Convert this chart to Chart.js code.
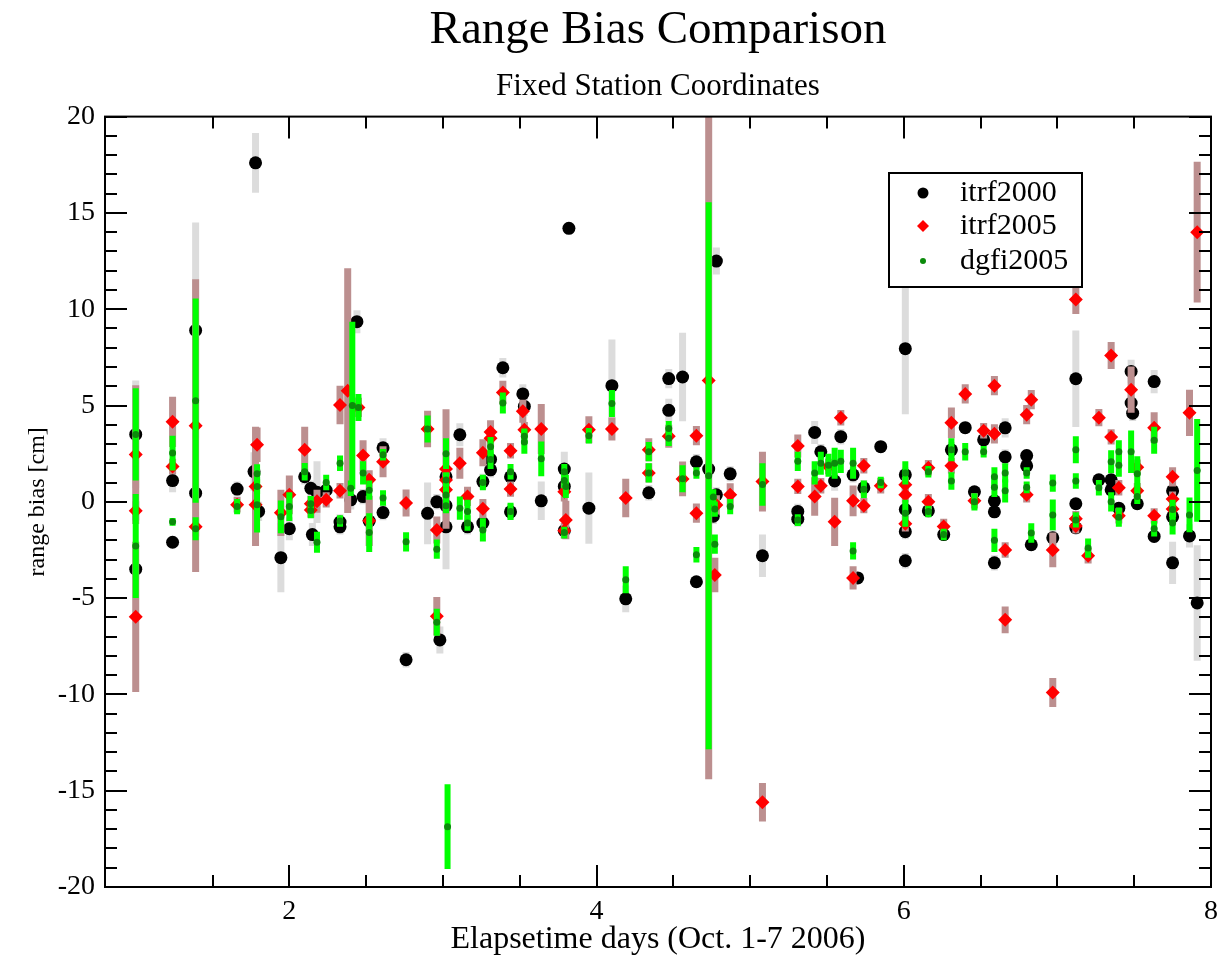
<!DOCTYPE html>
<html>
<head>
<meta charset="utf-8">
<title>Range Bias Comparison</title>
<script src="https://cdn.jsdelivr.net/npm/chart.js@4.4.1/dist/chart.umd.min.js"></script>
<style>
  html, body { margin: 0; padding: 0; background: #fff; }
  #wrap { width: 1218px; height: 959px; }
</style>
</head>
<body>
<div id="wrap"><canvas id="biasChart"></canvas></div>
<script>
// itrf2000 solution: elapsed day, range bias [cm], error [cm]
const itrf2000Days = [
  1.00,1.00,1.24,1.24,1.39,1.39,1.66,1.78,1.77,1.80,
  1.945,2.00,2.10,2.14,2.15,2.18,2.24,2.33,2.33,2.44,
  2.41,2.40,2.48,2.52,2.61,2.61,2.76,2.90,2.96,2.98,
  3.02,3.02,3.02,3.11,3.16,3.26,3.26,3.31,3.31,3.39,
  3.44,3.44,3.52,3.53,3.64,3.79,3.79,3.79,3.82,3.95,
  4.10,4.19,4.34,4.47,4.47,4.56,4.65,4.65,4.73,4.76,
  4.78,4.78,4.87,5.08,5.31,5.31,5.42,5.46,5.59,5.55,
  5.67,5.70,5.74,5.85,6.01,6.01,6.01,6.01,6.01,6.16,
  6.26,6.31,6.40,6.46,6.52,6.59,6.59,6.59,6.66,6.66,
  6.80,6.80,6.83,6.97,7.12,7.12,7.12,7.27,7.35,7.35,
  7.40,7.48,7.48,7.49,7.52,7.63,7.63,7.75,7.75,7.75,
  7.86,7.91
];
const itrf2000Bias = [
  3.5,-3.5,1.1,-2.1,8.9,0.45,0.66,17.6,1.57,-0.5,
  -2.9,-1.4,1.3,0.7,-1.7,0.5,0.6,-1.05,-1.3,9.35,
  4.95,0.1,0.27,-1.0,2.8,-0.56,-8.2,-0.6,0.0,-7.17,
  1.3,-0.2,-1.3,3.48,-1.3,1.05,-1.1,2.2,1.66,6.96,
  1.3,-0.52,5.6,4.95,0.05,1.7,0.8,-1.5,14.2,-0.33,
  6.03,-5.04,0.47,6.4,4.75,6.48,2.08,-4.15,1.7,-0.75,
  0.36,12.5,1.45,-2.8,-0.5,-0.9,3.6,2.6,3.38,1.08,
  1.4,-3.95,0.73,2.86,7.95,1.4,-0.4,-1.55,-3.06,-0.47,
  -1.7,2.7,3.85,0.52,3.22,0.05,-0.52,-3.17,3.84,2.33,
  2.4,1.87,-2.23,-1.87,6.39,-0.1,-1.35,1.14,1.14,0.62,
  -0.33,6.77,5.13,4.6,-0.1,6.24,-1.8,0.57,-0.78,-3.17,
  -1.77,-5.25
];
const itrf2000Err = [
  2.8,0.5,0.6,0.3,5.6,0.5,0.4,1.55,1.0,0.5,
  1.8,0.6,0.4,0.4,0.6,1.6,0.4,0.4,0.4,0.6,
  0.5,0.5,0.4,1.3,0.5,0.4,0.4,1.6,0.4,0.7,
  0.5,0.5,2.2,0.6,0.4,0.4,0.4,0.4,0.4,0.5,
  0.4,0.4,0.5,0.5,1.0,0.9,0.4,0.4,0.3,1.85,
  2.4,0.7,0.4,0.5,0.6,2.3,0.4,0.3,0.4,0.4,
  0.4,0.7,0.4,1.1,0.4,0.4,0.6,0.4,0.4,0.5,
  0.4,0.3,0.4,0.3,3.4,0.4,0.4,0.4,0.4,0.3,
  0.3,0.4,0.3,0.3,0.3,0.3,0.3,0.4,0.5,0.4,
  0.3,0.3,0.3,0.4,2.5,0.3,0.3,0.3,0.3,0.3,
  0.3,0.6,0.6,0.4,0.3,0.6,0.3,0.3,0.3,1.1,
  0.6,3.0
];

// itrf2005 solution
const itrf2005Days = [
  1.00,1.00,1.00,1.24,1.24,1.39,1.39,1.66,1.79,1.78,
  1.78,1.945,2.00,2.10,2.14,2.14,2.18,2.24,2.33,2.33,
  2.38,2.45,2.48,2.52,2.52,2.61,2.76,2.90,2.96,2.96,
  3.02,3.02,3.02,3.11,3.16,3.26,3.26,3.31,3.31,3.39,
  3.44,3.44,3.52,3.53,3.64,3.79,3.80,3.79,3.95,4.10,
  4.19,4.34,4.34,4.47,4.56,4.65,4.65,4.73,4.78,4.77,
  4.87,5.08,5.08,5.31,5.31,5.42,5.46,5.59,5.51,5.55,
  5.67,5.67,5.74,5.74,5.85,6.01,6.01,6.01,6.16,6.16,
  6.26,6.31,6.31,6.40,6.46,6.52,6.59,6.59,6.66,6.66,
  6.80,6.80,6.83,6.97,6.97,7.12,7.12,7.12,7.20,7.27,
  7.35,7.35,7.40,7.40,7.48,7.52,7.52,7.63,7.63,7.75,
  7.75,7.75,7.86,7.91
];
const itrf2005Bias = [
  2.45,-0.47,-5.97,4.15,1.83,3.95,-1.3,-0.15,2.96,0.8,
  -0.15,-0.57,0.36,2.7,-0.1,-0.43,0.03,0.1,5.03,0.57,
  5.77,4.9,2.4,1.14,-0.99,2.08,-0.06,3.78,-1.46,-5.94,
  1.7,1.13,0.62,2.0,0.28,2.55,-0.36,3.63,3.3,5.68,
  2.65,0.66,4.7,3.74,3.78,0.52,-0.94,-1.5,3.74,3.78,
  0.2,2.7,1.5,3.4,1.19,3.43,-0.59,6.3,-0.16,-3.8,
  0.36,1.05,-15.6,2.9,0.8,0.27,0.83,4.36,1.83,-1.04,
  0.05,-3.95,1.87,-0.2,0.83,0.88,0.36,-1.14,1.77,0.0,
  -1.28,4.1,1.87,5.6,0.05,3.69,6.03,3.53,-2.5,-6.13,
  4.52,0.36,5.3,-2.5,-9.9,10.5,-0.88,-1.25,-2.8,4.37,
  7.6,3.37,0.73,-0.73,5.82,1.8,0.57,3.85,-0.73,1.3,
  0.14,-0.38,4.62,14.0
];
const itrf2005Err = [
  3.6,0.5,3.9,1.3,0.4,7.6,0.5,0.4,0.9,3.1,
  0.5,1.2,1.0,1.2,0.4,0.4,0.6,0.4,1.0,0.4,
  6.35,0.5,0.8,0.5,1.3,0.8,0.7,0.95,0.7,1.0,
  3.1,0.4,0.4,0.8,0.5,0.7,0.5,0.6,0.4,0.6,
  0.4,0.4,0.6,0.4,1.3,0.5,1.0,0.4,0.7,0.6,
  1.0,0.6,0.5,0.6,0.9,0.5,0.5,20.7,0.5,0.9,
  0.6,1.55,1.0,0.6,0.4,1.0,0.4,0.4,0.4,1.25,
  0.8,0.6,0.4,0.4,0.4,0.4,0.4,0.4,0.4,0.4,
  0.4,0.8,0.4,0.5,0.4,0.4,0.5,0.5,0.4,0.7,
  0.5,0.4,0.5,0.9,0.75,0.75,0.4,0.4,0.4,0.45,
  0.7,0.4,0.4,0.4,1.2,0.4,0.4,0.8,0.4,0.5,
  0.4,0.4,1.2,3.65
];

// dgfi2005 solution
const dgfi2005Days = [
  1.00,1.00,1.24,1.24,1.39,1.39,1.66,1.79,1.79,1.79,
  1.945,2.00,2.10,2.14,2.14,2.18,2.24,2.33,2.33,2.41,
  2.45,2.40,2.48,2.52,2.52,2.61,2.61,2.76,2.90,2.96,
  2.96,3.03,3.02,3.02,3.02,3.02,3.11,3.16,3.16,3.26,
  3.26,3.31,3.31,3.39,3.44,3.44,3.53,3.53,3.64,3.79,
  3.79,3.80,3.79,3.95,4.10,4.19,4.34,4.34,4.47,4.47,
  4.56,4.65,4.65,4.73,4.76,4.77,4.77,4.87,5.08,5.31,
  5.31,5.42,5.46,5.51,5.55,5.59,5.67,5.67,5.74,5.85,
  6.01,6.01,6.16,6.16,6.26,6.31,6.31,6.40,6.46,6.52,
  6.59,6.59,6.59,6.66,6.66,6.80,6.80,6.83,6.97,6.97,
  7.12,7.12,7.12,7.20,7.27,7.35,7.35,7.40,7.40,7.40,
  7.48,7.52,7.52,7.63,7.63,7.75,7.75,7.86,7.91
];
const dgfi2005Bias = [
  3.5,-2.3,2.53,-1.04,5.25,-1.4,-0.25,1.45,0.8,-0.15,
  -0.78,-0.25,1.56,-0.1,-0.45,-2.1,1.0,2.0,-1.0,5.0,
  4.9,0.7,1.5,0.6,-1.6,2.44,0.2,-2.08,3.78,-2.46,
  -6.25,-16.87,2.5,1.13,0.35,-0.2,-0.33,-0.5,-1.1,1.0,
  -1.46,2.86,2.2,5.13,1.56,-0.5,3.4,3.1,2.23,1.56,
  1.1,0.8,-1.6,3.43,5.1,-4.05,2.6,1.5,3.8,3.3,
  1.2,1.5,-2.75,1.35,0.25,-0.38,-2.2,-0.25,0.9,2.1,
  -0.95,1.5,2.0,1.9,2.0,2.1,2.0,-2.55,0.65,1.0,
  1.5,-0.6,1.56,-0.5,-1.7,2.7,1.08,2.6,0.0,2.6,
  1.3,0.75,-2.0,1.5,0.57,1.5,0.75,-1.62,0.97,-0.68,
  2.7,1.08,-0.94,-2.4,0.73,2.08,0.0,2.6,1.9,-0.8,
  2.6,1.46,0.28,3.2,-1.4,-0.4,-1.1,-0.68,1.63
];
const dgfi2005Err = [
  2.4,2.7,0.9,0.2,5.3,0.6,0.4,0.5,0.4,1.45,
  0.85,0.75,0.45,0.4,0.4,0.55,0.4,0.4,0.3,4.35,
  0.7,0.4,0.6,0.5,1.0,0.3,0.4,0.5,0.7,0.5,
  0.7,2.2,0.8,0.4,0.4,0.4,0.6,0.6,0.4,0.4,
  0.6,0.5,0.5,0.55,0.4,0.45,0.4,0.6,0.9,0.4,
  0.4,0.6,0.3,0.4,0.7,0.7,0.5,0.5,0.4,0.4,
  0.7,0.3,0.4,14.2,0.4,0.4,0.5,0.4,1.1,0.5,
  0.3,0.6,0.6,0.6,0.8,0.6,0.8,0.45,0.45,0.3,
  0.6,0.7,0.3,0.3,0.3,0.6,0.45,0.45,0.45,0.3,
  0.5,0.5,0.6,0.5,0.6,0.3,0.3,0.5,0.45,0.8,
  0.7,0.4,0.4,0.5,0.4,0.6,0.5,0.6,0.6,0.5,
  1.1,0.9,0.4,0.7,0.4,0.5,0.6,0.9,2.67
];

const serif = "'Liberation Serif', 'Times New Roman', serif";

function toPoints(days, bias) {
    return days.map((d, i) => ({ x: d, y: bias[i] }));
}

// Vertical error bars, drawn just before each dataset's own symbols
const errorBars = {
    id: 'errorBars',
    beforeDatasetDraw(chart, args) {
        const ds = chart.data.datasets[args.index];
        const yScale = chart.scales.y;
        const area = chart.chartArea;
        const ctx = chart.ctx;
        ctx.save();
        ctx.beginPath();
        ctx.rect(area.left, area.top, area.right - area.left, area.bottom - area.top);
        ctx.clip();
        ctx.strokeStyle = ds.errColor;
        ctx.lineWidth = ds.errWidth;
        ctx.lineCap = 'butt';
        args.meta.data.forEach((pt, i) => {
            const v = ds.data[i].y;
            const e = ds.errors[i];
            ctx.beginPath();
            ctx.moveTo(pt.x, yScale.getPixelForValue(v + e));
            ctx.lineTo(pt.x, yScale.getPixelForValue(v - e));
            ctx.stroke();
        });
        ctx.restore();
    }
};

// Frame, inward major/minor ticks on all four sides, and the boxed legend
const frameAndLegend = {
    id: 'frameAndLegend',
    afterDraw(chart) {
        const ctx = chart.ctx;
        const { left, right, top, bottom } = chart.chartArea;
        const xs = chart.scales.x;
        const ys = chart.scales.y;
        ctx.save();
        ctx.strokeStyle = '#000';
        ctx.lineWidth = 2;
        ctx.strokeRect(left, top, right - left, bottom - top);

        ctx.beginPath();
        xs.ticks.forEach(t => {
            const v = t.value;
            if (Math.abs(v * 2 - Math.round(v * 2)) > 1e-6) return;
            const len = Math.abs(v - Math.round(v / 2) * 2) < 1e-6 ? 22 : 12;
            const px = Math.round(xs.getPixelForValue(v));
            ctx.moveTo(px, bottom); ctx.lineTo(px, bottom - len);
            ctx.moveTo(px, top); ctx.lineTo(px, top + len);
        });
        ys.ticks.forEach(t => {
            const v = t.value;
            const len = Math.abs(v % 5) < 1e-6 ? 22 : 12;
            const py = Math.round(ys.getPixelForValue(v));
            ctx.moveTo(left, py); ctx.lineTo(left + len, py);
            ctx.moveTo(right, py); ctx.lineTo(right - len, py);
        });
        ctx.stroke();

        // legend box
        const bx = 889, by = 173, bw = 193, bh = 114;
        ctx.fillStyle = '#fff';
        ctx.fillRect(bx, by, bw, bh);
        ctx.strokeRect(bx, by, bw, bh);
        const rows = [193, 226, 261];
        chart.data.datasets.forEach((ds, i) => {
            const cx = 923, cy = rows[i];
            ctx.fillStyle = ds.pointBackgroundColor;
            ctx.beginPath();
            if (ds.pointStyle === 'rectRot') {
                const r = 6;
                ctx.moveTo(cx, cy - r); ctx.lineTo(cx + r, cy);
                ctx.lineTo(cx, cy + r); ctx.lineTo(cx - r, cy);
                ctx.closePath();
            } else {
                ctx.arc(cx, cy, ds.pointRadius === 3.5 ? 3 : 5.5, 0, Math.PI * 2);
            }
            ctx.fill();
            ctx.fillStyle = '#000';
            ctx.font = '30px ' + serif;
            ctx.textAlign = 'left';
            ctx.textBaseline = 'middle';
            ctx.fillText(ds.label, 960, cy);
        });
        ctx.restore();
    }
};

new Chart(document.getElementById('biasChart'), {
    type: 'scatter',
    data: {
        datasets: [
            {
                label: 'itrf2000',
                data: toPoints(itrf2000Days, itrf2000Bias),
                errors: itrf2000Err,
                errColor: '#dcdcdc',
                errWidth: 7,
                pointStyle: 'circle',
                pointRadius: 6.5,
                pointBackgroundColor: '#000000',
                pointBorderWidth: 0,
                order: 3
            },
            {
                label: 'itrf2005',
                data: toPoints(itrf2005Days, itrf2005Bias),
                errors: itrf2005Err,
                errColor: '#bc8f8f',
                errWidth: 7,
                pointStyle: 'rectRot',
                pointRadius: 7,
                pointBackgroundColor: '#ff0000',
                pointBorderWidth: 0,
                order: 2
            },
            {
                label: 'dgfi2005',
                data: toPoints(dgfi2005Days, dgfi2005Bias),
                errors: dgfi2005Err,
                errColor: '#00ff00',
                errWidth: 6,
                pointStyle: 'circle',
                pointRadius: 3.5,
                pointBackgroundColor: '#0b8b0b',
                pointBorderWidth: 0,
                order: 1
            }
        ]
    },
    options: {
        responsive: true,
        maintainAspectRatio: false,
        animation: false,
        events: [],
        devicePixelRatio: 1,
        layout: { padding: { left: 0, right: 6, top: 0, bottom: 0 } },
        plugins: {
            legend: { display: false },
            tooltip: { enabled: false },
            title: {
                display: true,
                text: 'Range Bias Comparison',
                fullSize: false,
                color: '#000',
                font: { family: serif, size: 47, weight: 'normal' },
                padding: { top: 2, bottom: 10 }
            },
            subtitle: {
                display: true,
                text: 'Fixed Station Coordinates',
                fullSize: false,
                color: '#000',
                font: { family: serif, size: 31, weight: 'normal' },
                padding: { top: 0, bottom: 11 }
            }
        },
        scales: {
            x: {
                type: 'linear',
                min: 0.8,
                max: 8,
                grid: { display: false },
                border: { display: false },
                ticks: {
                    stepSize: 0.5,
                    autoSkip: false,
                    maxRotation: 0,
                    padding: 0,
                    color: '#000',
                    font: { family: serif, size: 28 },
                    callback: v => (Math.abs(v / 2 - Math.round(v / 2)) < 1e-6 && v > 0) ? v : ''
                },
                title: {
                    display: true,
                    text: 'Elapsetime days (Oct. 1-7 2006)',
                    color: '#000',
                    font: { family: serif, size: 32 },
                    padding: { top: 0, bottom: 0 }
                },
                afterFit: scale => { scale.height = 72; }
            },
            y: {
                min: -20,
                max: 20,
                grid: { display: false },
                border: { display: false },
                ticks: {
                    stepSize: 1,
                    autoSkip: false,
                    padding: 2,
                    color: '#000',
                    font: { family: serif, size: 28 },
                    callback: v => (v % 5 === 0) ? v : ''
                },
                title: {
                    display: true,
                    text: 'range bias [cm]',
                    color: '#000',
                    font: { family: serif, size: 24 },
                    padding: { top: 23, bottom: 0 }
                },
                afterFit: scale => { scale.width = 105; }
            }
        }
    },
    plugins: [errorBars, frameAndLegend]
});
</script>
</body>
</html>
